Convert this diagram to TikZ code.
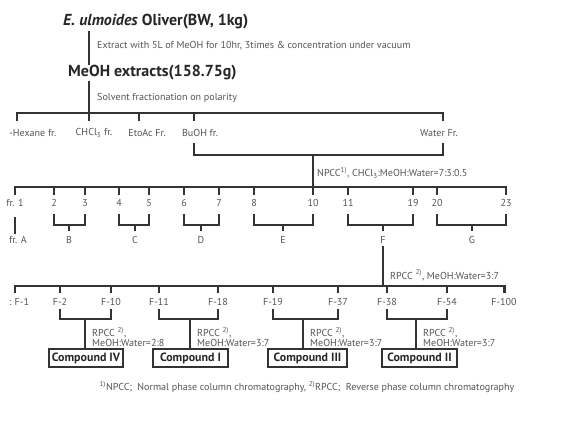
\documentclass[tikz,border=0pt]{standalone}
\usepackage{fontspec}
\setmainfont{PT Sans}
\definecolor{linegray}{HTML}{333333}
\definecolor{txtgray}{HTML}{555555}
\tikzset{
  ln/.style={draw=linegray, line width=1.7pt},
  lbl/.style={text=txtgray, inner sep=0pt, font=\fontsize{8.6}{8.5}\selectfont},
  note/.style={lbl, anchor=west, align=left},
  head/.style={text=black!85, inner sep=0pt, anchor=west, font=\fontsize{13.6}{15}\selectfont\bfseries},
  cbox/.style={draw=linegray, line width=1.2pt, inner sep=0pt, minimum height=18*0.03cm, text=black!85, font=\fontsize{10.2}{12}\selectfont\bfseries}
}
\begin{document}
\begin{tikzpicture}[x=0.03cm, y=-0.03cm]
\useasboundingbox (0,0) rectangle (586,429);
% extraction
\node[head] (plant) at (63,22) {\textit{E. ulmoides} Oliver(BW, 1kg)};
\node[head] (crude) at (68,73) {MeOH extracts(158.75g)};
\draw[ln] (89,31) -- (crude.north -| 89,0);
\node[note] (step1) at (97,46) {Extract with 5L of MeOH for 10hr, 3times \& concentration under vacuum};
\draw[ln] (crude.south -| 89,0) -- (89,113);
\node[note] (step2) at (97,98) {Solvent fractionation on polarity};
% solvent fractions
\draw[ln] (17,121) -- (17,113) -- (443,113) -- (443,121);
\foreach \x in {89,139,194} \draw[ln] (\x,113) -- (\x,121);
\node[lbl, anchor=west] (hex) at (9,133) {-Hexane fr.};
\node[lbl] (chcl) at (94,133) {CHCl\textsubscript{3} fr.};
\node[lbl] (etoac) at (147,133) {EtoAc Fr.};
\node[lbl] (buoh) at (200,133) {BuOH fr.};
\node[lbl] (water) at (439,133) {Water Fr.};
\draw[ln] (194,143) -- (194,155) -- (443,155) -- (443,143);
\draw[ln] (313,155) -- (313,187);
\node[note] (npcc) at (317,173) {NPCC\textsuperscript{1)}, CHCl\textsubscript{3}:MeOH:Water=7:3:0.5};
% NPCC fractions
\draw[ln] (15,195) -- (15,187) -- (506,187) -- (506,195);
\foreach \x/\t [count=\i] in {15/fr. 1,54/2,85/3,119/4,149/5,184/6,219/7,254/8,313/10,348/11,413/19,437/20,506/23}{
  \draw[ln] (\x,187) -- (\x,195);
  \node[lbl] (n\i) at (\x,203) {\t};
}
\draw[ln] (15,217) -- (15,234);
\node[lbl] (frA) at (18,240) {fr. A};
\foreach \a/\b/\m/\l in {54/85/69/B,119/149/135/C,184/219/201/D,254/313/283/E,348/413/383/F,437/506/472/G}{
  \draw[ln] (\a,214) -- (\a,225) -- (\b,225) -- (\b,214);
  \draw[ln] (\m,225) -- (\m,231);
  \node[lbl] (fr\l) at (\m,240) {\l};
}
\draw[ln] (383,246) -- (383,286);
\node[note] (rpcc) at (390,275) {RPCC \textsuperscript{2)}, MeOH:Water=3:7};
% RPCC fractions
\draw[ln] (15,293) -- (15,286) -- (505,286) -- (505,293);
\foreach \x/\t [count=\i] in {60/F-2,111/F-10,159/F-11,218/F-18,273/F-19,338/F-37,387/F-38,447/F-54,504/F-100}{
  \draw[ln] (\x,286) -- (\x,293);
  \node[lbl] (s\i) at (\x,302) {\t};
}
\node[lbl] (s0) at (19,302) {: F-1};
% compounds
\foreach \a/\b/\m/\c/\w/\r/\n in {60/111/85/86/74/2:8/IV,159/218/190/190.5/75/3:7/I,273/338/303/307.5/79/3:7/III,387/447/416/419.5/75/3:7/II}{
  \draw[ln] (\a,309) -- (\a,319) -- (\b,319) -- (\b,309);
  \node[cbox, minimum width=\w*0.03cm] (cmp\n) at (\c,358) {Compound \n};
  \draw[ln] (\m,319) -- (cmp\n.north -| \m,0);
  \node[note, anchor=north west] (cond\n) at (\m+7,327) {RPCC \textsuperscript{2)},\\MeOH:Water=\r};
}
\node[lbl] (foot) at (307,387) {\textsuperscript{1)}NPCC;\ \ Normal phase column chromatography, \textsuperscript{2)}RPCC;\ \ Reverse phase column chromatography};
\end{tikzpicture}
\end{document}
